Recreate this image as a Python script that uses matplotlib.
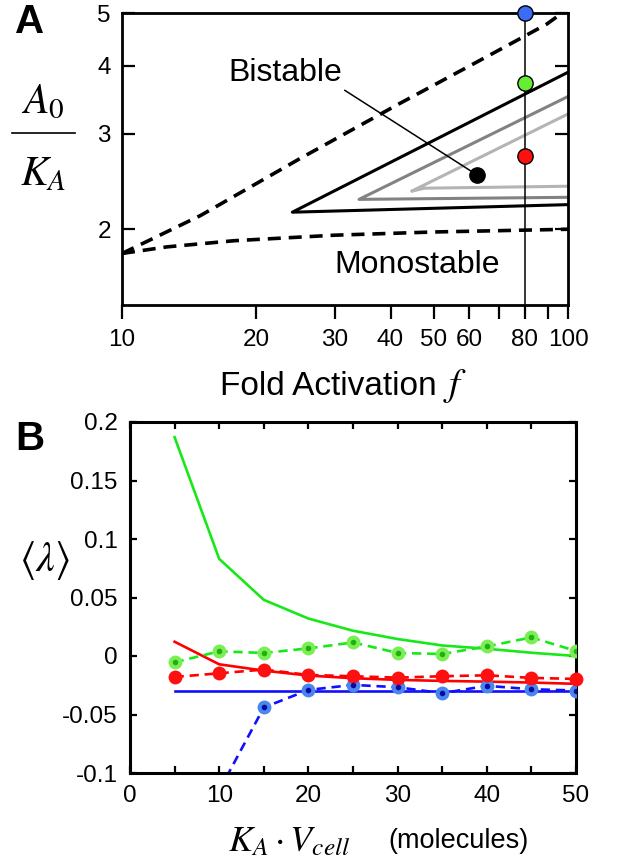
import matplotlib
matplotlib.use("Agg")
import matplotlib.pyplot as plt
import numpy as np
from matplotlib.lines import Line2D

plt.rcParams['font.family'] = ['Liberation Sans', 'DejaVu Sans']
plt.rcParams['mathtext.fontset'] = 'stix'

# ---------------- Panel A data ----------------
upper_dash_f = [10, 15, 25.1, 42, 59.3, 72.9, 89.6, 97]
upper_dash_y = [1.805, 2.12, 2.70, 3.41, 3.97, 4.35, 4.77, 5.0]
lower_dash_f = [10, 12.6, 17.8, 29.8, 49.9, 100]
lower_dash_y = [1.805, 1.856, 1.905, 1.95, 1.977, 2.0]
black_tri_f = [100, 24.1, 100]
black_tri_y = [3.89, 2.15, 2.22]
gray_tri_f = [100, 34.0, 100]
gray_tri_y = [3.51, 2.27, 2.29]
lgray_tri_f = [100, 44.6, 47.6, 100]
lgray_tri_y = [3.26, 2.35, 2.38, 2.40]
f_line = 80
marker_y = [5.0, 3.71, 2.73]
marker_colors = ['#3a6cf4', '#66ee33', '#ff1010']
dot_f, dot_y = 62.4, 2.52
bistable_pos = (23.2, 3.87)
monostable_pos = (45.8, 1.718)
xticks_A = [10, 20, 30, 40, 50, 60, 70, 80, 90, 100]
xticklabels_A = ['10', '20', '30', '40', '50', '60', '', '80', '', '100']
yticks_A = [2, 3, 4, 5]

# ---------------- Panel B data ----------------
kv = [5, 10, 15, 20, 25, 30, 35, 40, 45, 50]
green_solid = [0.187, 0.083, 0.048, 0.032, 0.0216, 0.0145, 0.009, 0.0062, 0.0028, 0.0]
green_dash = [-0.0054, 0.004, 0.0026, 0.0065, 0.0116, 0.0026, 0.0017, 0.0082, 0.0159, 0.0043]
red_solid = [0.0122, -0.0071, -0.0125, -0.0167, -0.019, -0.0204, -0.0213, -0.0219, -0.0227, -0.0238]
red_dash = [-0.0179, -0.0148, -0.0116, -0.0162, -0.0173, -0.0185, -0.0173, -0.0165, -0.0187, -0.0196]
blue_solid = [-0.0295] * 10
blue_dash = [np.nan, -0.115, -0.044, -0.029, -0.0247, -0.0267, -0.0318, -0.0255, -0.0284, -0.0295]
xticks_B = [0, 5, 10, 15, 20, 25, 30, 35, 40, 45, 50]
xticklabels_B = ['0', '', '10', '', '20', '', '30', '', '40', '', '50']
yticks_B = [-0.1, -0.05, 0, 0.05, 0.1, 0.15, 0.2]
yticklabels_B = ['-0.1', '-0.05', '0', '0.05', '0.1', '0.15', '0.2']

W, H = 618, 867
fig = plt.figure(figsize=(W / 100, H / 100), dpi=100)

def fx(px):
    return px / W

def fy(py):
    return 1 - py / H

TICKFS = 17.5

# ================= Panel A =================
axA = fig.add_axes([fx(122), fy(305), fx(568) - fx(122), fy(13) - fy(305)])
axA.set_xscale('log')
axA.set_yscale('log')
axA.set_xlim(10, 100)
axA.set_ylim(1.451, 5.0)

dash = (0, (3.6, 2.2))
axA.plot(upper_dash_f, upper_dash_y, color='black', lw=2.6, ls=dash)
axA.plot(lower_dash_f, lower_dash_y, color='black', lw=2.6, ls=dash)
axA.plot(lgray_tri_f, lgray_tri_y, color='#b4b4b4', lw=2.2)
axA.plot(gray_tri_f, gray_tri_y, color='#828282', lw=2.2)
axA.plot(black_tri_f, black_tri_y, color='black', lw=2.2)
axA.axvline(f_line, color='black', lw=1.1, zorder=3)
for yv, c in zip(marker_y, marker_colors):
    axA.plot([f_line], [yv], 'o', ms=11, mfc=c, mec='black', mew=1.0, zorder=5, clip_on=False)
axA.plot([dot_f], [dot_y], 'o', ms=11, mfc='black', mec='black', zorder=5)

axA.annotate('Bistable', xy=(dot_f, dot_y), xytext=bistable_pos, ha='center', va='center',
             fontsize=23,
             arrowprops=dict(arrowstyle='-', color='black', lw=1.1, shrinkA=0, shrinkB=0,
                             relpos=(1.0, 0.0)))
axA.text(monostable_pos[0], monostable_pos[1], 'Monostable', ha='center', va='center', fontsize=23)

axA.set_xticks(xticks_A)
axA.set_xticklabels(xticklabels_A)
axA.xaxis.set_minor_locator(matplotlib.ticker.NullLocator())
axA.set_yticks(yticks_A)
axA.set_yticklabels([str(v) for v in yticks_A])
axA.yaxis.set_minor_locator(matplotlib.ticker.NullLocator())
axA.tick_params(axis='x', direction='out', length=10, width=1.6, pad=7, labelsize=TICKFS, top=False)
axA.tick_params(axis='y', direction='in', length=9.5, width=1.6, pad=8, labelsize=TICKFS,
                left=True, right=True)
for s in axA.spines.values():
    s.set_linewidth(2.0)

# y label fraction
fig.text(fx(43), fy(113), r'$A_0$', fontsize=30, ha='center', va='baseline')
fig.text(fx(43), fy(185), r'$K_A$', fontsize=30, ha='center', va='baseline')
fig.add_artist(Line2D([fx(12), fx(75)], [fy(133), fy(133)], color='black', lw=1.2,
                      transform=fig.transFigure))
fig.text(fx(220), fy(395), 'Fold Activation', fontsize=24, ha='left', va='baseline')
fig.text(fx(455), fy(395), r'$f$', fontsize=28, ha='center', va='baseline')
fig.text(fx(30), fy(22), 'A', fontsize=29, fontweight='bold', ha='center', va='center')

# ================= Panel B =================
axB = fig.add_axes([fx(130), fy(773), fx(576) - fx(130), fy(422) - fy(773)])
axB.set_xlim(0, 50)
axB.set_ylim(-0.1, 0.2)

lw = 1.9
bdash = (0, (3.5, 2.2))
axB.plot(kv, green_solid, color='#18e818', lw=lw)
axB.plot(kv, red_solid, color='#ff0000', lw=lw)
axB.plot(kv, blue_solid, color='#1010ff', lw=lw)

axB.plot(kv, blue_dash, color='#1010ff', lw=lw, ls=bdash)
axB.plot(kv, blue_dash, 'o', ms=10, mfc='#4a86f0', mec='none', zorder=4)
axB.plot(kv, blue_dash, 'o', ms=4, mfc='#0a0aa0', mec='none', zorder=5)

axB.plot(kv, green_dash, color='#18e818', lw=lw, ls=bdash)
axB.plot(kv, green_dash, 'o', ms=10, mfc='#7aee55', mec='none', zorder=4)
axB.plot(kv, green_dash, 'o', ms=4, mfc='#20b010', mec='none', zorder=5)

axB.plot(kv, red_dash, color='#ff0000', lw=lw, ls=bdash)
axB.plot(kv, red_dash, 'o', ms=10, mfc='#ff1010', mec='none', zorder=4, clip_on=False)

axB.set_xticks(xticks_B)
axB.set_xticklabels(xticklabels_B)
axB.set_yticks(yticks_B)
axB.set_yticklabels(yticklabels_B)
axB.tick_params(axis='both', direction='in', length=5, width=1.6, labelsize=TICKFS,
                top=True, right=True)
axB.tick_params(axis='x', pad=9)
axB.tick_params(axis='y', pad=9)
for s in axB.spines.values():
    s.set_linewidth(2.2)

fig.text(fx(45), fy(560), r'$\langle \lambda \rangle$', fontsize=30, ha='center', va='center')
fig.text(fx(228), fy(851), r'$K_A \cdot V_{cell}$', fontsize=26, ha='left', va='baseline')
fig.text(fx(388), fy(848), '(molecules)', fontsize=19.5, ha='left', va='baseline')
fig.text(fx(30), fy(439), 'B', fontsize=29, fontweight='bold', ha='center', va='center')

fig.savefig('out.png', dpi=100)
